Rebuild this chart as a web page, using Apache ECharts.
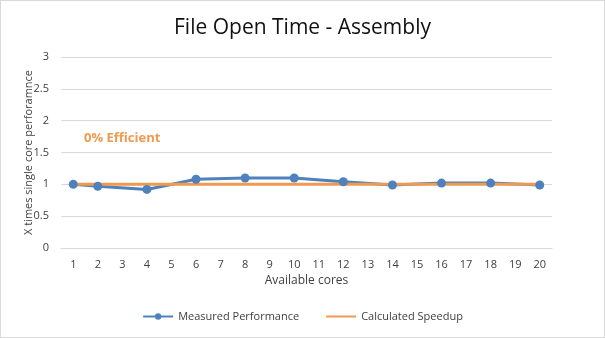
<!DOCTYPE html>
<html>
<head>
<meta charset="utf-8">
<script src="https://cdn.jsdelivr.net/npm/echarts@6/dist/echarts.min.js"></script>
<style>
  html, body { margin: 0; padding: 0; background: #fff; }
  #chart { width: 603px; height: 336px; border: 1px solid #d9d9d9; }
</style>
</head>
<body>
<div id="chart"></div>
<script>
// Core counts along the x axis
const cores = ['1','2','3','4','5','6','7','8','9','10','11','12','13','14','15','16','17','18','19','20'];
// Measured speedup relative to one core (null where no run was made)
const measured = [1.0, 0.97, null, 0.92, null, 1.08, null, 1.10, null, 1.10, null, 1.04, null, 0.99, null, 1.02, null, 1.02, null, 0.99];
// Predicted speedup
const calculated = [1,1,1,1,1,1,1,1,1,1,1,1,1,1,1,1,1,1,1,1];
const yTicks = { min: 0, max: 3, interval: 0.5 };

const font = 'Open Sans, Noto Sans, sans-serif';
const blue = '#4f81bd';
const orange = '#ef9a4f';

const chart = echarts.init(document.getElementById('chart'));
chart.setOption({
  animation: false,
  textStyle: { fontFamily: font },
  title: {
    text: 'File Open Time - Assembly',
    left: 'center',
    top: 12,
    textStyle: { fontFamily: font, fontSize: 21, fontWeight: 'normal', color: '#111' }
  },
  grid: { left: 60, right: 52, top: 56, bottom: 89 },
  legend: {
    bottom: 10,
    left: 'center',
    itemWidth: 30,
    itemHeight: 8,
    itemGap: 26,
    textStyle: { fontFamily: font, fontSize: 11, color: '#404040' },
    data: [
      'Measured Performance',
      { name: 'Calculated Speedup', itemStyle: { opacity: 0 } }
    ]
  },
  xAxis: {
    type: 'category',
    data: cores,
    name: 'Available cores',
    nameLocation: 'middle',
    nameGap: 27,
    nameTextStyle: { fontFamily: font, fontSize: 12, color: '#404040' },
    axisLine: { lineStyle: { color: '#d9d9d9' } },
    axisTick: { show: false },
    axisLabel: { fontFamily: font, fontSize: 11, color: '#404040', margin: 11 }
  },
  yAxis: {
    type: 'value',
    min: yTicks.min,
    max: yTicks.max,
    interval: yTicks.interval,
    name: 'X times single core perforamnce',
    nameLocation: 'middle',
    nameGap: 27,
    nameMoveOverlap: false,
    nameTextStyle: { fontFamily: font, fontSize: 11, color: '#404040' },
    axisLine: { show: false },
    axisTick: { show: false },
    axisLabel: { fontFamily: font, fontSize: 11, color: '#404040', margin: 12 },
    splitLine: { lineStyle: { color: '#d9d9d9' } }
  },
  graphic: [{
    type: 'text',
    left: 83,
    top: 131,
    style: { text: '0% Efficient', fontFamily: font, fontSize: 13, fontWeight: 'bold', fill: orange }
  }],
  series: [
    {
      name: 'Measured Performance',
      type: 'line',
      data: measured,
      connectNulls: true,
      symbol: 'circle',
      symbolSize: 9,
      lineStyle: { color: blue, width: 3 },
      itemStyle: { color: blue }
    },
    {
      name: 'Calculated Speedup',
      type: 'line',
      data: calculated,
      symbol: 'none',
      lineStyle: { color: orange, width: 3 },
      itemStyle: { color: orange }
    }
  ]
});
</script>
</body>
</html>
